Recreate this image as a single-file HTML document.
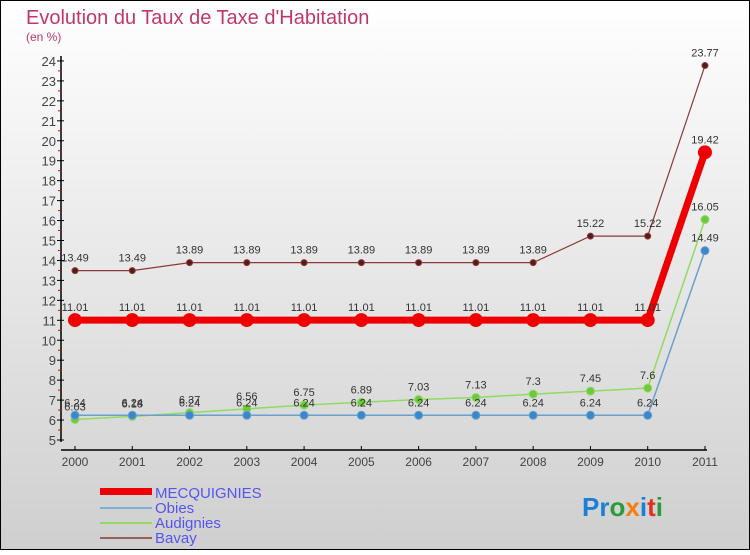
<!DOCTYPE html>
<html><head><meta charset="utf-8"><style>
body{margin:0}
svg text{font-family:"Liberation Sans",sans-serif}
</style></head><body>
<svg id="c" width="750" height="550" viewBox="0 0 750 550">
<defs><linearGradient id="bg" x1="0" y1="0" x2="0" y2="1"><stop offset="0" stop-color="#ffffff"/><stop offset="1" stop-color="#cfcfcf"/></linearGradient></defs>
<rect x="0.5" y="0.5" width="749" height="549" fill="url(#bg)" stroke="#000"/>
<text x="26" y="24" font-size="20" fill="#c0386a">Evolution du Taux de Taxe d'Habitation</text>
<text x="26" y="41" font-size="12" fill="#c0386a">(en %)</text>
<g id="axes"></g><g id="series"></g>
<g>
<rect x="100" y="488" width="52" height="7" fill="#e00"/>
<text x="155" y="498" font-size="15" fill="#5555ee">MECQUIGNIES</text>
<rect x="100" y="507" width="52" height="2" fill="#7ab0d6"/>
<text x="155" y="513" font-size="15" fill="#5555ee">Obies</text>
<rect x="100" y="522" width="52" height="2" fill="#8fdc60"/>
<text x="155" y="528" font-size="15" fill="#5555ee">Audignies</text>
<rect x="100" y="537" width="52" height="2" fill="#9a6060"/>
<text x="155" y="543" font-size="15" fill="#5555ee">Bavay</text>
</g>
<text x="582" y="516" font-size="26" font-weight="bold"><tspan fill="#1a7fd6">Pr</tspan><tspan fill="#2a9a3a">o</tspan><tspan fill="#f08010">x</tspan><tspan fill="#1a7fd6">i</tspan><tspan fill="#e03020">t</tspan><tspan fill="#2a9a3a">i</tspan></text>
</svg>
<script>
const years=["2000","2001","2002","2003","2004","2005","2006","2007","2008","2009","2010","2011"];
const mecq=[11.01,11.01,11.01,11.01,11.01,11.01,11.01,11.01,11.01,11.01,11.01,19.42];
const obies=[6.24,6.24,6.24,6.24,6.24,6.24,6.24,6.24,6.24,6.24,6.24,14.49];
const audignies=[6.03,6.18,6.37,6.56,6.75,6.89,7.03,7.13,7.3,7.45,7.6,16.05];
const bavay=[13.49,13.49,13.89,13.89,13.89,13.89,13.89,13.89,13.89,15.22,15.22,23.77];
const yTicks=[5,6,7,8,9,10,11,12,13,14,15,16,17,18,19,20,21,22,23,24];
const NS="http://www.w3.org/2000/svg";
const X=i=>75+i*57.27, Y=v=>440-(v-5)*19.95;
function mk(t,a,p){const e=document.createElementNS(NS,t);for(const k in a)e.setAttribute(k,a[k]);p.appendChild(e);return e;}
const ax=document.getElementById('axes');
let l=mk('line',{x1:61,y1:56,x2:61,y2:442,stroke:'#000','stroke-width':1.5},ax);


l=mk('line',{x1:61,y1:450,x2:707,y2:450,stroke:'#000','stroke-width':1.5},ax);


yTicks.forEach(v=>{
 mk('line',{x1:57,y1:Y(v),x2:64,y2:Y(v),stroke:'#000'},ax);
 if(v<24)mk('line',{x1:58,y1:Y(v+0.5),x2:61,y2:Y(v+0.5),stroke:'#e00'},ax);
 const t=mk('text',{x:56,y:Y(v)+5,'font-size':13,'text-anchor':'end',fill:'#444'},ax);t.textContent=v;
 
 
});
years.forEach((y,i)=>{
 mk('line',{x1:X(i),y1:446,x2:X(i),y2:450,stroke:'#000'},ax);
 const t=mk('text',{x:X(i),y:466,'font-size':12,'text-anchor':'middle',fill:'#444'},ax);t.textContent=y;
 
 
});
const sg=document.getElementById('series');
function series(name,data,color,w,r,dot){
 const g=mk('g',{},sg);
 
 
 mk('polyline',{points:data.map((v,i)=>X(i)+','+Y(v)).join(' '),fill:'none',stroke:color,'stroke-width':w},g);
 data.forEach((v,i)=>{
  const c=mk('circle',{cx:X(i),cy:Y(v),r:r,fill:dot,stroke:color,'stroke-width':1},g);
  
  
  const t=mk('text',{x:X(i),y:Y(v)-9,'font-size':11,'text-anchor':'middle',fill:'#333'},g);t.textContent=v;
  
  
 });
}
series('bavay',bavay,'#8a3a3a',1.2,3,'#5a1a1a');
series('audignies',audignies,'#8fdc60',1.5,4,'#70c840');
series('obies',obies,'#6aa0cc',1.5,4,'#3a88cc');
series('mecquignies',mecq,'#ee0000',7,6.5,'#ee0000');
</script>
</body></html>
